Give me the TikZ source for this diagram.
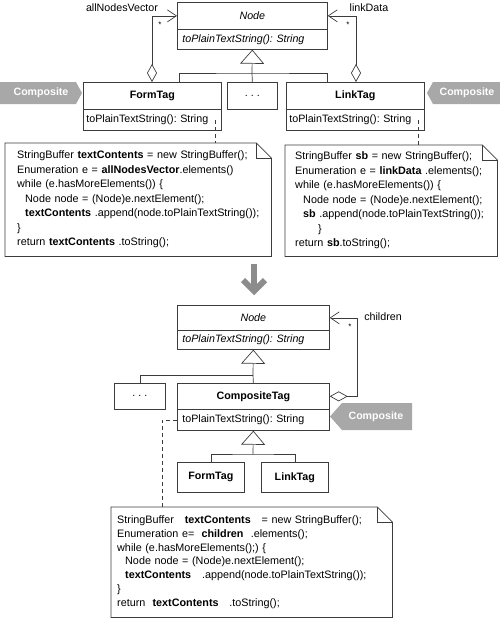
\documentclass[tikz,border=0pt]{standalone}
\usepackage{fontspec}
\setmainfont{Liberation Sans}
\usetikzlibrary{arrows.meta,calc}
\definecolor{linegray}{RGB}{60,60,60}
\definecolor{taggray}{RGB}{168,168,168}
\definecolor{arrowgray}{RGB}{140,140,140}
\begin{document}
\frenchspacing
\begin{tikzpicture}[x=1pt,y=-1pt,
  line/.style={draw=linegray, line width=0.7pt},
  cbox/.style={draw=linegray, line width=0.7pt, inner sep=0pt, anchor=north west,
    font=\fontsize{10.7}{12}\selectfont},
  mbox/.style={cbox, align=left},
  lbl/.style={inner sep=0pt, font=\fontsize{10.7}{12}\selectfont},
  star/.style={inner sep=0pt, font=\fontsize{8}{8}\selectfont},
  tagtext/.style={inner sep=0pt, text=white, font=\fontsize{10.6}{12}\selectfont\bfseries},
  notetext/.style={inner ysep=0pt, anchor=north west, align=left,
    font=\fontsize{10.8}{14.5}\selectfont},
  gen/.style={line, -{Triangle[open, length=14pt, width=24pt]}},
  aggr/.style={line, {Diamond[open, length=18pt, width=10pt]}-{Straight Barb[length=9pt, width=12pt]}},
  dashline/.style={draw=linegray, line width=0.6pt, dash pattern=on 4pt off 3pt},
]
\useasboundingbox (0,0) rectangle (500,619);

% ---------- top diagram ----------
\node[cbox, minimum width=150pt, minimum height=27pt] (node) at (177,2) {\itshape Node};
\node[mbox, minimum width=150pt, minimum height=20pt, text width=140pt] (nodem) at (177,29)
  {\itshape toPlainTextString(): String};

\node[cbox, minimum width=138pt, minimum height=27pt] (ft) at (83,82) {\bfseries FormTag};
\node[mbox, minimum width=138pt, minimum height=21pt, text width=132pt] (ftm) at (83,109)
  {toPlainTextString(): String};

\node[cbox, minimum width=50pt, minimum height=27pt] (dots) at (227,82) {. . .};

\node[cbox, minimum width=138pt, minimum height=27pt] (lt) at (286,82) {\bfseries LinkTag};
\node[mbox, minimum width=138pt, minimum height=21pt, text width=132pt] (ltm) at (286,109)
  {toPlainTextString(): String};

\coordinate (j1) at (252,73);
\coordinate (ftj) at ([xshift=96pt]ft.north west);
\coordinate (ltj) at ([xshift=41pt]lt.north west);
\draw[line] (ftj) |- (j1) -| (ltj);
\draw[line] (dots.north) -- (j1);
\draw[gen] (j1) -- (nodem.south);

\coordinate (fta) at ([xshift=69pt]ft.north west);
\coordinate (lta) at ([xshift=70pt]lt.north west);
\draw[aggr] (fta) |- (node.west);
\draw[aggr] (lta) |- (node.east);
\node[star] (s1) at (160,25) {*};
\node[star] (s2) at (348,25) {*};
\node[lbl] (lab1) at (122,8) {allNodesVector};
\node[lbl] (lab2) at (369,8) {linkData};

% composite tags top
\fill[taggray] (0,82) -- (76,82) -- (82,93) -- (76,104) -- (0,104) -- cycle;
\node[tagtext] (comp1) at (41,93) {Composite};
\fill[taggray] (500,82) -- (433,82) -- (427,93) -- (433,104) -- (500,104) -- cycle;
\node[tagtext] (comp2) at (467,93) {Composite};

% notes top
\node[notetext, minimum width=266pt, minimum height=113pt, inner xsep=12pt, text width=242pt] (n1) at (5,143)
{\mbox{StringBuffer \textbf{textContents} = new StringBuffer();}\\
\mbox{Enumeration e = \textbf{allNodesVector}.elements()}\\
\mbox{while (e.hasMoreElements()) \{}\\
\mbox{\hspace*{8pt}Node node = (Node)e.nextElement();}\\
\mbox{\hspace*{8pt}\textbf{textContents} .append(node.toPlainTextString());}\\
\}\\
\mbox{return \textbf{textContents} .toString();}};
\draw[line] (n1.north west) -- ([xshift=-15pt]n1.north east) -- ([yshift=-15pt]n1.north east)
  -- (n1.south east) -- (n1.south west) -- cycle;
\draw[line] ([xshift=-15pt]n1.north east) |- ([yshift=-15pt]n1.north east);

\node[notetext, minimum width=212pt, minimum height=111pt, inner xsep=10pt, text width=192pt] (n2) at (285,145)
{\mbox{StringBuffer \textbf{sb} = new StringBuffer();}\\
\mbox{Enumeration e = \textbf{linkData} .elements();}\\
\mbox{while (e.hasMoreElements()) \{}\\
\mbox{\hspace*{8pt}Node node = (Node)e.nextElement();}\\
\mbox{\hspace*{8pt}\textbf{sb} .append(node.toPlainTextString());}\\
\hspace*{23pt}\}\\
\mbox{return \textbf{sb}.toString();}};
\draw[line] (n2.north west) -- ([xshift=-15pt]n2.north east) -- ([yshift=-15pt]n2.north east)
  -- (n2.south east) -- (n2.south west) -- cycle;
\draw[line] ([xshift=-15pt]n2.north east) |- ([yshift=-15pt]n2.north east);

\coordinate (d1) at ([xshift=-6pt]ftm.east);
\coordinate (d2) at ([xshift=-6pt]ltm.east);
\draw[dashline] (d1) -- (d1 |- n1.north);
\draw[dashline] (d2) -- (d2 |- n2.north);

% big arrow
\draw[arrowgray, line width=6pt] (254,264) -- (254,291);
\draw[arrowgray, line width=6pt, line join=miter] (243,280) -- (254,291) -- (265,280);

% ---------- bottom diagram ----------
\node[cbox, minimum width=152pt, minimum height=25pt] (node2) at (177,305) {\itshape Node};
\node[mbox, minimum width=152pt, minimum height=19pt, text width=142pt] (node2m) at (177,330)
  {\itshape toPlainTextString(): String};

\node[cbox, minimum width=51pt, minimum height=26pt] (dots2) at (114,383) {. . .};
\node[cbox, minimum width=152pt, minimum height=26pt] (ct) at (177,383) {\bfseries CompositeTag};
\node[mbox, minimum width=152pt, minimum height=21pt, text width=142pt] (ctm) at (177,409)
  {toPlainTextString(): String};

\coordinate (j2) at (253,375);
\draw[line] (dots2.north) |- (j2);
\draw[line] (ct.north) -- (j2);
\draw[gen] (j2) -- (node2m.south);

\draw[aggr] (ct.east) -- ++(28,0) |- (node2.east);
\node[star] (s3) at (350,327) {*};
\node[lbl] (lab3) at (383,317) {children};

\fill[taggray] (412,403) -- (342,403) -- (330,416.5) -- (342,430) -- (412,430) -- cycle;
\node[tagtext] (comp3) at (376,416.5) {Composite};

\node[cbox, minimum width=67pt, minimum height=30pt] (ft2) at (177,462) {\bfseries FormTag};
\node[cbox, minimum width=67pt, minimum height=30pt] (lt2) at (261,462) {\bfseries LinkTag};
\coordinate (j3) at (253,454);
\draw[line] (ft2.north) |- (j3) -| (lt2.north);
\draw[gen] (j3) -- (ctm.south);

\node[notetext, minimum width=281pt, minimum height=110pt, inner xsep=6pt, text width=269pt,
  font=\fontsize{10.8}{13.8}\selectfont] (n3) at (111,507)
{\mbox{StringBuffer \ \ \textbf{textContents} \ \ = new StringBuffer();}\\
\mbox{Enumeration e= \ \textbf{children} \ .elements();}\\
\mbox{while (e.hasMoreElements();) \{}\\
\mbox{\hspace*{8pt}Node node = (Node)e.nextElement();}\\
\mbox{\hspace*{8pt}\textbf{textContents} \ \ .append(node.toPlainTextString());}\\
\}\\
\mbox{return \ \textbf{textContents} \ \ .toString();}};
\draw[line] (n3.north west) -- ([xshift=-15pt]n3.north east) -- ([yshift=-15pt]n3.north east)
  -- (n3.south east) -- (n3.south west) -- cycle;
\draw[line] ([xshift=-15pt]n3.north east) |- ([yshift=-15pt]n3.north east);

\coordinate (d3) at ([xshift=-15pt]ctm.west);
\draw[dashline] (ctm.west) -- (d3) -- (d3 |- n3.north);
\end{tikzpicture}
\end{document}
